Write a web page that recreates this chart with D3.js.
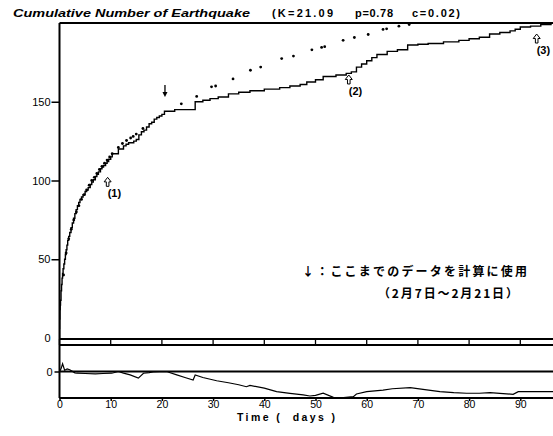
<!DOCTYPE html>
<html><head><meta charset="utf-8">
<script src="https://cdn.jsdelivr.net/npm/d3@7"></script>
<style>body{margin:0;background:#fff}svg{display:block}</style>
</head><body>
<script>
// Observed cumulative number (step curve)
const obsDays = [0,0.02,0.05,0.1,0.15,0.2,0.3,0.4,0.5,0.6,0.7,0.85,1.0,1.15,1.3,1.45,1.6,1.8,2,2.25,2.5,2.75,3,3.25,3.5,3.75,4,4.3,4.6,5,5.3,5.6,6,6.3,6.6,7,7.3,7.6,8,8.3,8.6,9,9.3,9.6,10,10.3,11,11.5,12,12.5,13,13.5,14,14.5,15,15.5,16,16.5,17,17.5,18,18.5,19,19.5,20,20.5,22.5,24,26.5,28,29.4,31,33,35,37.2,40,43,45,47,48.3,50,51.5,53,54,56,57,58,59,60,61,62,64,66,68,70,72,75,78,80,82,84,86,88,89,90,92,94,96,100];
const obsCount = [0,6,12,18,21,24,30,34,38,41,44,47,50,53,56,59,62,64.5,67,70,73,76,79,81.5,84,86,88,89.5,91,93,94,95.5,97.5,99,100.5,102.5,104,105.5,107.5,108.5,109.5,111,112,113.5,115,117,117,120,120,122,123,124,124,125,126,129,131,132,134,136,137,139,140,141,142,144,145,145,150,151,152,153,155,156,157,158,159,160,161,162.5,164,166,166,167,168,169,172,174,176,178,180,182,183,186,186.5,187,188,189,190,191,193,194,195,196,197.5,198,199,200,200];
// Model curve (dots)
const modelDays = [0.5,1,1.5,2,2.5,3,3.5,4,4.5,5,5.5,6,6.5,7,7.5,8,8.5,9,9.5,10,11.2,12,12.8,13.6,14.1,14.7,16,23.5,26.5,29.4,30.2,33.6,37,39,43.1,45.4,49,50.9,51.5,55.1,57.3,60,62.9,63.6,66,68];
const modelCount = [40,54,63,69,75,80,84,88,91,94,97,100,102,104.5,107,109,111,113,115,117,121,123.5,125.4,127,128,129.5,133,148.7,153.4,159.5,160,164.5,170,172,177.4,179,183,184.5,185,189,190.8,192.7,195.9,196.3,198,199];
// Residuals
const residDays = [0,0.3,0.6,1,1.5,2,3,3.4,5,7,8.5,10.2,11.5,12.5,13.8,15.4,16.4,17.5,18.3,19.5,20.9,22.9,24.5,26.1,26.5,28,30.7,33,35,36.5,37.2,40,42.4,45,47.6,48.9,50,51.5,53.5,55,57.4,58,60,63.2,65,68.5,71,74.3,77,79.5,82,84.1,86,88.6,89.6,92,96,100];
const residValues = [0,2,5.8,1,2,1.3,-1,-1.3,-1.5,-1.8,-1.5,-1.3,0,-1.2,-2.6,-5,-1.3,-0.8,-0.3,-0.2,0,-2.5,-4.5,-6.4,-2.6,-4.5,-7,-8.5,-10,-11.5,-10.5,-12.5,-15.2,-16.5,-17.7,-18.5,-18,-16.4,-19.5,-19.8,-19,-17,-15.2,-14,-13,-12.2,-13.5,-15.2,-16,-16.4,-16.4,-16,-16.5,-17.2,-15.2,-15.2,-15.2,-15];
const xTicks = [0,10,20,30,40,50,60,70,80,90];
const yTicks = [0,50,100,150];
const titleMain = "Cumulative Number of Earthquake";
const titleParams = ["(K=21.09","p=0.78","c=0.02)"];
const noteLines = ["↓：ここまでのデータを計算に使用","（2月7日～2月21日）"];
const markers = [{label:"(1)",day:9.4,count:102},{label:"(2)",day:56.5,count:167},{label:"(3)",day:93.2,count:193}];
const usedUntilDay = 20.6;

const W=553,H=436;
const FONT="'Liberation Sans',Arial,sans-serif";
const svg=d3.select("body").append("svg").attr("width",W).attr("height",H).style("font-family",FONT);

const x=d3.scaleLinear().domain([0,100]).range([59.5,571.5]);
const y=d3.scaleLinear().domain([0,200]).range([338,23]);
const yr=d3.scaleLinear().domain([-20,20]).range([398,345]);

svg.append("clipPath").attr("id","clipMain").append("rect")
  .attr("x",x(0)).attr("y",y(200)).attr("width",x(100)-x(0)).attr("height",y(0)-y(200));

// Title
svg.append("text").attr("x",13).attr("y",17).attr("font-size",11).attr("font-style","italic")
  .attr("font-weight","bold").attr("textLength",237).attr("lengthAdjust","spacingAndGlyphs").text(titleMain);
const tpos=[[272,61],[355,38],[412,48]];
titleParams.forEach((t,i)=>svg.append("text").attr("x",tpos[i][0]).attr("y",17).attr("font-size",11)
  .attr("font-weight","bold").attr("textLength",tpos[i][1]).attr("lengthAdjust","spacing").text(t));

// Main frame
svg.append("line").attr("x1",x(0)).attr("x2",x(100)).attr("y1",y(200)).attr("y2",y(200)).attr("stroke","#000").attr("stroke-width",2);
svg.append("line").attr("x1",x(0)).attr("x2",x(0)).attr("y1",y(200)).attr("y2",398).attr("stroke","#000").attr("stroke-width",2);

// y axis main
const yAx=d3.axisLeft(y).tickValues(yTicks).tickSize(8).tickFormat(d3.format("d"));
const ya=svg.append("g").attr("transform",`translate(${x(0)},0)`).call(yAx);
ya.select(".domain").remove();
ya.selectAll("line").attr("stroke-width",1.5);
ya.selectAll("text").attr("font-size",11).attr("fill","#000").attr("x",-9).attr("font-family",FONT);
ya.selectAll(".tick").filter(d=>d===0).select("line").remove();

// strip between main and residual
const stripTop=339, stripBot=345;
svg.append("line").attr("x1",x(0)).attr("x2",x(100)).attr("y1",stripTop).attr("y2",stripTop).attr("stroke","#000").attr("stroke-width",2);
svg.append("line").attr("x1",x(0)).attr("x2",x(100)).attr("y1",stripBot).attr("y2",stripBot).attr("stroke","#000").attr("stroke-width",2);
svg.selectAll(".stick").data(xTicks.concat([100])).enter().append("line")
  .attr("x1",d=>x(d)).attr("x2",d=>x(d)).attr("y1",stripTop).attr("y2",stripBot).attr("stroke","#000").attr("stroke-width",1.3);

// residual panel
svg.append("line").attr("x1",x(0)).attr("x2",x(100)).attr("y1",yr(0)).attr("y2",yr(0)).attr("stroke","#000").attr("stroke-width",1.8);
const yrAx=d3.axisLeft(yr).tickValues([0]).tickSize(5).tickFormat(d3.format("d"));
const yra=svg.append("g").attr("transform",`translate(${x(0)},0)`).call(yrAx);
yra.select(".domain").remove();
yra.selectAll("line").attr("stroke-width",1.5);
yra.selectAll("text").attr("font-size",11).attr("fill","#000").attr("x",-7).attr("font-family",FONT);

// bottom x axis
const xAx=d3.axisBottom(x).tickValues(xTicks).tickSize(3).tickPadding(0).tickFormat(d3.format("d"));
const xa=svg.append("g").attr("transform","translate(0,398)").call(xAx);
xa.select(".domain").attr("stroke-width",2).attr("d",`M${x(0)},0H${x(100)}`);
xa.selectAll("line").attr("stroke-width",1.5);
xa.selectAll("text").attr("font-size",10.5).attr("fill","#000").attr("font-family",FONT);

svg.append("text").attr("x",237).attr("y",421).attr("font-size",10.5).attr("font-weight","bold")
  .attr("textLength",98).attr("lengthAdjust","spacing").attr("xml:space","preserve").text("Time (  days )");

// residual line
const resid=residDays.map((d,i)=>[d,residValues[i]]);
svg.append("path").datum(resid).attr("fill","none").attr("stroke","#000").attr("stroke-width",1.2)
  .attr("d",d3.line().x(d=>x(d[0])).y(d=>yr(d[1])));

// observed step curve
const obs=obsDays.map((d,i)=>[d,obsCount[i]]);
const pm=svg.append("g").attr("clip-path","url(#clipMain)");
pm.append("path").datum(obs).attr("fill","none").attr("stroke","#000").attr("stroke-width",1.4)
  .attr("d",d3.line().curve(d3.curveStepAfter).x(d=>x(d[0])).y(d=>y(d[1])));

// model dots
const model=modelDays.map((d,i)=>[d,modelCount[i]]);
pm.selectAll(".dot").data(model).enter().append("circle")
  .attr("cx",d=>x(d[0])+1.5).attr("cy",d=>y(d[1])).attr("r",1.4).attr("fill","#000");

// down arrow marking data used
const ax=x(usedUntilDay);
svg.append("line").attr("x1",ax).attr("x2",ax).attr("y1",85).attr("y2",93).attr("stroke","#000").attr("stroke-width",1.3);
svg.append("path").attr("d",`M${ax-2.5},92L${ax+2.5},92L${ax},97Z`).attr("fill","#000");

// hollow arrows with labels
markers.forEach(m=>{
  const mx=x(m.day), tip=y(m.count);
  svg.append("path").attr("d",`M${mx},${tip}L${mx-3.5},${tip+4.5}L${mx-1.3},${tip+4.5}L${mx-1.3},${tip+9}L${mx+1.3},${tip+9}L${mx+1.3},${tip+4.5}L${mx+3.5},${tip+4.5}Z`)
    .attr("fill","#fff").attr("stroke","#000").attr("stroke-width",1);
  svg.append("text").attr("x",mx).attr("y",tip+20).attr("font-size",11).attr("font-weight","bold").text(m.label);
});

// Japanese note
const jf="'Noto Sans CJK JP','Noto Sans CJK SC',sans-serif";
svg.append("text").attr("x",302).attr("y",276).attr("font-size",12).attr("font-family",jf).attr("font-weight","bold")
  .attr("textLength",225).attr("lengthAdjust","spacing").text(noteLines[0]);
svg.append("text").attr("x",378).attr("y",297.5).attr("font-size",12).attr("font-family",jf).attr("font-weight","bold")
  .attr("textLength",140).attr("lengthAdjust","spacing").text(noteLines[1]);
</script>
</body></html>
